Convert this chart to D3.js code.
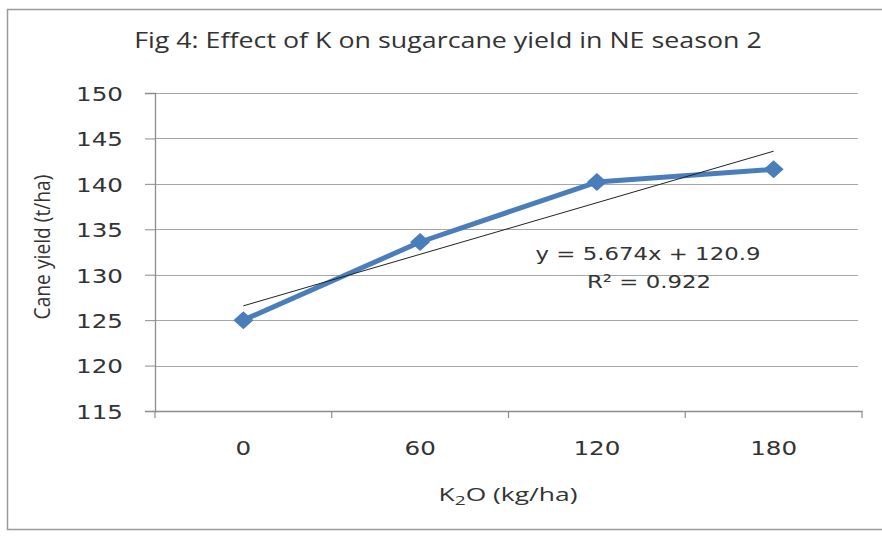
<!DOCTYPE html>
<html><head><meta charset="utf-8">
<script src="https://cdn.jsdelivr.net/npm/d3@7"></script>
<style>body{margin:0;background:#fff}svg{display:block}</style>
</head><body>
<svg id="c" width="882" height="537"></svg>
<script>
const categories = ["0", "60", "120", "180"];
const yieldValues = [125.0, 133.6, 140.2, 141.6];
const yTicks = [115, 120, 125, 130, 135, 140, 145, 150];
const trendSlope = 5.674;
const trendIntercept = 120.9;
const equationText = "y = 5.674x + 120.9";
const r2Text = "R² = 0.922";
const titleText = "Fig 4: Effect of K on sugarcane yield in NE season 2";

const svg = d3.select("#c");
const L = 155, R = 862, T = 93, B = 411;
const x = d3.scaleBand().domain(categories).range([L, R]);
const y = d3.scaleLinear().domain([115, 150]).range([B, T]);
const cx = d => x(d) + x.bandwidth() / 2;
const SX = 1.23; // horizontal stretch of the reference's text

function fit(sel, px, py, w) {
  sel.attr("x", 0).attr("y", 0);
  const bw = sel.node().getComputedTextLength();
  sel.attr("transform", `translate(${px},${py}) scale(${w / bw},1)`);
}

// outer border
svg.append("rect").attr("x", 7.5).attr("y", 9.5).attr("width", 890).attr("height", 520)
  .attr("fill", "#fff").attr("stroke", "#9a9a9a").attr("stroke-width", 1.5);

// gridlines
svg.append("g").selectAll("line").data(yTicks).join("line")
  .attr("x1", L).attr("x2", 858).attr("y1", d => Math.round(y(d)) + 0.5).attr("y2", d => Math.round(y(d)) + 0.5)
  .attr("stroke", "#a6a6a6").attr("stroke-width", 1.2);

// y axis
const ya = svg.append("g").attr("transform", `translate(${L},0)`)
  .call(d3.axisLeft(y).tickValues(yTicks).tickSize(10).tickPadding(20).tickFormat(d3.format("d")));
ya.select(".domain").attr("stroke", "#8c8c8c").attr("stroke-width", 1.3);
ya.selectAll(".tick line").attr("stroke", "#8c8c8c");
ya.selectAll("text").attr("font-family", "DejaVu Sans").attr("font-size", 20).attr("fill", "#333")
  .attr("x", 0).attr("transform", `translate(-32,1) scale(${SX},1)`);

// x axis
const xa = svg.append("g").attr("transform", `translate(0,${B})`)
  .call(d3.axisBottom(x).tickSize(0).tickPadding(29));
xa.select(".domain").attr("stroke", "#8c8c8c").attr("stroke-width", 1.3);
xa.selectAll(".tick line").remove();
xa.selectAll("text").attr("font-family", "DejaVu Sans").attr("font-size", 20).attr("fill", "#333")
  .attr("y", 0).attr("dy", null).attr("transform", `translate(0,44) scale(${SX},1)`);
const bounds = categories.map(c => x(c)).concat([R]);
xa.selectAll("line.bt").data(bounds).join("line").attr("class", "bt")
  .attr("x1", d => d).attr("x2", d => d).attr("y1", 0).attr("y2", 7)
  .attr("stroke", "#8c8c8c").attr("stroke-width", 1.2);

// series line
const line = d3.line().x((d, i) => cx(categories[i])).y(d => y(d));
svg.append("path").datum(yieldValues).attr("d", line)
  .attr("fill", "none").attr("stroke", "#4a7ebb").attr("stroke-width", 5).attr("stroke-linejoin", "round");

// trendline
const tr = categories.map((c, i) => trendSlope * (i + 1) + trendIntercept);
svg.append("line")
  .attr("x1", cx(categories[0])).attr("y1", y(tr[0]))
  .attr("x2", cx(categories[3])).attr("y2", y(tr[3]))
  .attr("stroke", "#222").attr("stroke-width", 1);

// markers
svg.append("g").selectAll("path").data(yieldValues).join("path")
  .attr("transform", (d, i) => `translate(${cx(categories[i])},${y(d)})`)
  .attr("d", "M0,-9L10,0L0,9L-10,0Z").attr("fill", "#4a7ebb");

// equation
fit(svg.append("text").attr("text-anchor", "middle")
  .attr("font-family", "DejaVu Sans").attr("font-size", 18).attr("fill", "#333").text(equationText), 648, 260, 225);
fit(svg.append("text").attr("text-anchor", "middle")
  .attr("font-family", "DejaVu Sans").attr("font-size", 18).attr("fill", "#333").text(r2Text), 649, 288, 124);

// title
fit(svg.append("text").attr("text-anchor", "middle")
  .attr("font-family", "Open Sans").attr("font-size", 21).attr("fill", "#333").text(titleText), 448, 48, 628);

// axis titles
const xt = svg.append("text").attr("text-anchor", "middle")
  .attr("font-family", "Open Sans").attr("font-size", 18).attr("fill", "#333");
xt.append("tspan").text("K");
xt.append("tspan").attr("font-size", 13).attr("dy", 4).text("2");
xt.append("tspan").attr("dy", -4).text("O (kg/ha)");
fit(xt, 508, 501, 139);

const yt = svg.append("text").attr("text-anchor", "middle")
  .attr("font-family", "Open Sans").attr("font-size", 21).attr("fill", "#333").text("Cane yield (t/ha)");
yt.attr("x", 0).attr("y", 0);
const yw = yt.node().getComputedTextLength();
yt.attr("transform", `translate(50,247) rotate(-90) scale(${145 / yw},1)`);
</script>
</body></html>
